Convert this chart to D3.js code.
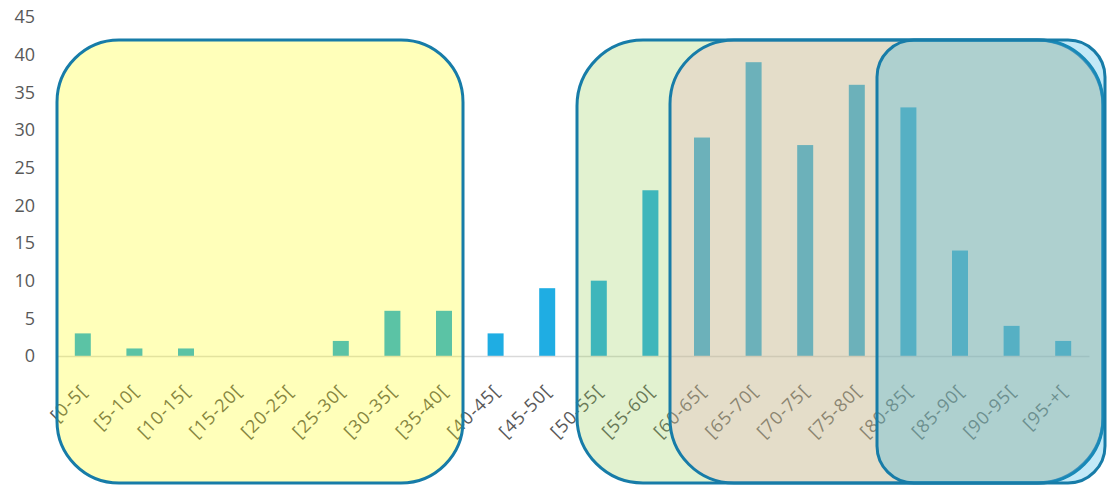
<!DOCTYPE html>
<html>
<head>
<meta charset="utf-8">
<script src="https://cdn.jsdelivr.net/npm/d3@7/dist/d3.min.js"></script>
<style>
  html, body { margin: 0; padding: 0; background: #ffffff; }
  svg { display: block; }
  text { font-family: "Open Sans", "Noto Sans", sans-serif; fill: #595959; }
</style>
</head>
<body>
<svg id="chart" width="1108" height="485"></svg>
<script>
// Age groups and number of people in each group
const categories = ["[0-5[", "[5-10[", "[10-15[", "[15-20[", "[20-25[", "[25-30[", "[30-35[",
  "[35-40[", "[40-45[", "[45-50[", "[50-55[", "[55-60[", "[60-65[", "[65-70[", "[70-75[",
  "[75-80[", "[80-85[", "[85-90[", "[90-95[", "[95-+["];
const counts = [3, 1, 1, 0, 0, 2, 6, 6, 3, 9, 10, 22, 29, 39, 28, 36, 33, 14, 4, 2];
const yTicks = [0, 5, 10, 15, 20, 25, 30, 35, 40, 45];

// Highlight panels drawn over the chart, back to front
const panels = [
  { x0: 57,  x1: 463,  r: 62, fill: "rgba(255,255,0,0.27)" },
  { x0: 577, x1: 1103, r: 66, fill: "rgba(146,208,80,0.27)" },
  { x0: 670, x1: 1103, r: 64, fill: "rgba(232,168,186,0.27)" },
  { x0: 877, x1: 1105, r: 37, fill: "rgba(31,174,227,0.27)" }
];

const svg = d3.select("#chart");
const plot = { left: 57, right: 1089, top: 17, bottom: 356 };

const x = d3.scaleBand()
  .domain(categories)
  .range([plot.left, plot.right])
  .paddingInner(0.69)
  .paddingOuter(0.345);

const y = d3.scaleLinear()
  .domain([0, 45])
  .range([plot.bottom, plot.top]);

// Bars
svg.append("g")
  .selectAll("rect")
  .data(categories.map((c, i) => ({ c, v: counts[i] })))
  .join("rect")
  .attr("x", d => x(d.c))
  .attr("y", d => y(d.v))
  .attr("width", x.bandwidth())
  .attr("height", d => y(0) - y(d.v))
  .attr("fill", "#1fade3");

// Y axis labels
const yAxis = svg.append("g")
  .attr("transform", "translate(41,0)")
  .call(d3.axisLeft(y).tickValues(yTicks).tickSize(0).tickPadding(6));
yAxis.select(".domain").remove();
yAxis.selectAll("text")
  .style("font-family", "'Open Sans', sans-serif")
  .style("font-size", "18px")
  .attr("fill", "#595959");

// X axis line
const xAxis = svg.append("g")
  .attr("transform", `translate(0,${plot.bottom})`)
  .call(d3.axisBottom(x).tickSize(0).tickFormat(""));
xAxis.select(".domain")
  .attr("stroke", "#d9d9d9")
  .attr("stroke-width", 1.5);

// Rotated category labels
svg.append("g")
  .selectAll("text")
  .data(categories)
  .join("text")
  .attr("transform", d => `translate(${x(d) + x.bandwidth() / 2 + 1},${plot.bottom + 32}) rotate(-45)`)
  .attr("text-anchor", "end")
  .attr("dy", "0.35em")
  .attr("font-size", 18)
  .attr("letter-spacing", 1)
  .attr("fill", "#595959")
  .text(d => d);

// Rounded highlight panels
svg.append("g")
  .selectAll("rect")
  .data(panels)
  .join("rect")
  .attr("x", d => d.x0)
  .attr("y", 40)
  .attr("width", d => d.x1 - d.x0)
  .attr("height", 443)
  .attr("rx", d => d.r)
  .attr("ry", d => d.r)
  .attr("fill", d => d.fill)
  .attr("stroke", "#177ca8")
  .attr("stroke-width", 3);
</script>
</body>
</html>
